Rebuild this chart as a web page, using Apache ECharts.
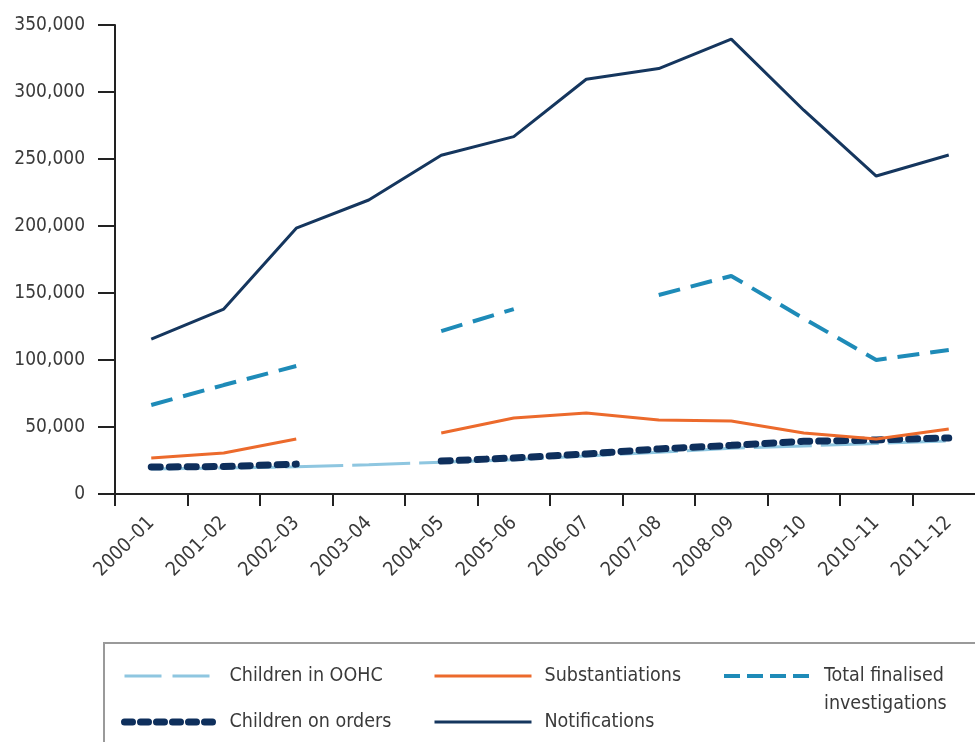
<!DOCTYPE html>
<html>
<head>
<meta charset="utf-8">
<script src="https://cdn.jsdelivr.net/npm/echarts@6/dist/echarts.min.js"></script>
<style>
html,body{margin:0;padding:0;background:#fff;}
#chart{width:975px;height:742px;}
</style>
</head>
<body>
<div id="chart"></div>
<script>
var categories = ['2000–01','2001–02','2002–03','2003–04','2004–05','2005–06','2006–07','2007–08','2008–09','2009–10','2010–11','2011–12'];
var notifications = [115500, 138000, 198400, 219400, 252800, 266700, 309500, 317500, 339500, 286400, 237300, 253000];
var investigations = [66400, 81300, 95500, null, 121600, 138000, null, 148500, 162700, 131000, 100000, 107500];
var substantiations = [26900, 30600, 41000, null, 45500, 56700, 60400, 55200, 54500, 45500, 41000, 48500];
var childrenOnOrders = [20100, 20500, 22300, null, 24600, 26900, 29900, 33600, 36300, 39300, 40300, 41800];
var childrenInOOHC = [18700, 19400, 20300, 21800, 23700, 25500, 28400, 31200, 34100, 35900, 37700, 39600];
var yTicks = { min: 0, max: 350000, interval: 50000 };

var FONT = '"Liberation Sans Narrow", "DejaVu Sans Condensed", "Arial Narrow", sans-serif';
var TXT = '#3a3a3a';

var C_OOHC = '#8ec6e0', C_ORD = '#0e2f5c', C_SUB = '#ec6a2c', C_INV = '#1e8bb8', C_NOT = '#15365e';

var chart = echarts.init(document.getElementById('chart'), null, { renderer: 'canvas' });

function legendAt(name, left, top, itemWidth, padLeft, lineStyle, formatter) {
  var l = {
    data: [name],
    left: left,
    top: top,
    padding: 0,
    itemWidth: itemWidth,
    itemHeight: 14,
    selectedMode: false,
    itemStyle: { opacity: 0, color: 'rgba(0,0,0,0)', borderWidth: 0 },
    lineStyle: lineStyle,
    textStyle: {
      fontFamily: FONT,
      fontSize: 19.5,
      color: TXT,
      lineHeight: 28,
      padding: [0, 0, 0, padLeft]
    }
  };
  if (formatter) l.formatter = formatter;
  return l;
}

var option = {
  backgroundColor: '#fff',
  animation: false,
  grid: { left: 115, top: 25, width: 870, height: 469, containLabel: false, outerBoundsMode: 'none' },
  graphic: [{
    type: 'rect',
    shape: { x: 104, y: 643, width: 900, height: 150 },
    style: { fill: 'none', stroke: '#9a9a9a', lineWidth: 2 },
    silent: true,
    z: 0
  }],
  legend: [
    legendAt('Children in OOHC', 123, 662, 87, 13, { color: C_OOHC, width: 3, type: [37, 11] }),
    legendAt('Substantiations', 433, 662, 97, 8, { color: C_SUB, width: 3, type: 'solid' }),
    legendAt('Total finalised investigations', 722, 634, 86, 9, { color: C_INV, width: 4, type: [16, 7] },
      function () { return ' \nTotal finalised\ninvestigations'; }),
    legendAt('Children on orders', 121, 708, 92, 8, { color: C_ORD, width: 7, type: [8, 8], cap: 'round' }),
    legendAt('Notifications', 433, 708, 97, 8, { color: C_NOT, width: 3, type: 'solid' })
  ],
  xAxis: {
    type: 'category',
    data: categories,
    boundaryGap: true,
    axisLine: { show: true, lineStyle: { color: '#222', width: 2 } },
    axisTick: { show: true, length: 12, lineStyle: { color: '#222', width: 2 }, alignWithLabel: false },
    axisLabel: {
      interval: 0,
      rotate: 45,
      margin: 26,
      fontFamily: FONT,
      fontSize: 19.5,
      color: TXT
    },
    splitLine: { show: false }
  },
  yAxis: {
    type: 'value',
    min: yTicks.min,
    max: yTicks.max,
    interval: yTicks.interval,
    axisLine: { show: true, lineStyle: { color: '#222', width: 2 } },
    axisTick: { show: true, length: 17, lineStyle: { color: '#222', width: 2 } },
    axisLabel: {
      margin: 30,
      fontFamily: FONT,
      fontSize: 19,
      color: TXT
    },
    splitLine: { show: false }
  },
  series: [
    {
      name: 'Children in OOHC',
      type: 'line',
      data: childrenInOOHC,
      symbol: 'none',
      connectNulls: false,
      lineStyle: { color: C_OOHC, width: 3, type: [58, 9] },
      itemStyle: { color: C_OOHC },
      z: 2
    },
    {
      name: 'Children on orders',
      type: 'line',
      data: childrenOnOrders,
      symbol: 'none',
      connectNulls: false,
      lineStyle: { color: C_ORD, width: 7, type: [9, 9], cap: 'round' },
      itemStyle: { color: C_ORD },
      z: 3
    },
    {
      name: 'Substantiations',
      type: 'line',
      data: substantiations,
      symbol: 'none',
      connectNulls: false,
      lineStyle: { color: C_SUB, width: 3 },
      itemStyle: { color: C_SUB },
      z: 4
    },
    {
      name: 'Total finalised investigations',
      type: 'line',
      data: investigations,
      symbol: 'none',
      connectNulls: false,
      lineStyle: { color: C_INV, width: 4, type: [22, 11] },
      itemStyle: { color: C_INV },
      z: 4
    },
    {
      name: 'Notifications',
      type: 'line',
      data: notifications,
      symbol: 'none',
      connectNulls: false,
      lineStyle: { color: C_NOT, width: 3 },
      itemStyle: { color: C_NOT },
      z: 5
    }
  ]
};
chart.setOption(option);
</script>
</body>
</html>
